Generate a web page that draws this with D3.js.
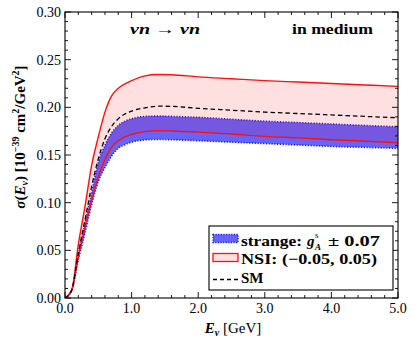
<!DOCTYPE html>
<html>
<head>
<meta charset="utf-8">
<script src="https://cdn.jsdelivr.net/npm/d3@7"></script>
<style>
  body { margin: 0; background: #fff; }
  svg text { font-family: "Liberation Serif", "DejaVu Serif", serif; }
</style>
</head>
<body>
<script>
// neutrino energies (GeV)
var energy = [0, 0.1, 0.2, 0.3, 0.4, 0.5, 0.6, 0.7, 0.8, 0.9, 1.0, 1.2, 1.4, 1.6, 2.0, 2.5, 3.0, 3.5, 4.0, 4.5, 5.0];
// cross sections, 10^-39 cm^2/GeV^2
var nsiUpper = [0, 0.008, 0.056, 0.096, 0.139, 0.169, 0.195, 0.212, 0.220, 0.2245, 0.228, 0.233, 0.2345, 0.2342, 0.232, 0.230, 0.228, 0.2265, 0.225, 0.2235, 0.222];
var nsiLower = [0, 0.008, 0.043, 0.074, 0.102, 0.127, 0.145, 0.158, 0.165, 0.169, 0.1715, 0.1745, 0.1755, 0.1752, 0.174, 0.172, 0.1695, 0.168, 0.166, 0.1645, 0.1628];
var strangeUpper = [0, 0.008, 0.045, 0.078, 0.110, 0.142, 0.160, 0.173, 0.181, 0.1855, 0.188, 0.1905, 0.1908, 0.1905, 0.1895, 0.1875, 0.1855, 0.184, 0.1825, 0.181, 0.1796];
var strangeLower = [0, 0.008, 0.040, 0.068, 0.098, 0.122, 0.137, 0.149, 0.157, 0.161, 0.1635, 0.1658, 0.1663, 0.166, 0.165, 0.1635, 0.162, 0.1605, 0.159, 0.158, 0.157];
var sm = [0, 0.008, 0.047, 0.082, 0.117, 0.146, 0.167, 0.180, 0.188, 0.193, 0.196, 0.1995, 0.2012, 0.201, 0.199, 0.197, 0.195, 0.1935, 0.192, 0.1905, 0.189];

var xTicks = [0, 1, 2, 3, 4, 5];
var yTicks = [0, 0.05, 0.10, 0.15, 0.20, 0.25, 0.30];

const w = 415;
const h = 346;
const pl = 65, pr = 398, pt = 12, pb = 298;

const xScale = d3.scaleLinear().domain([0, 5]).range([pl, pr]);
const yScale = d3.scaleLinear().domain([0, 0.30]).range([pb, pt]);

const svg = d3.select("body").append("svg").attr("width", w).attr("height", h);

svg.append("defs").append("clipPath").attr("id", "clip")
  .append("rect").attr("x", pl).attr("y", pt).attr("width", pr - pl).attr("height", pb - pt);

const plot = svg.append("g").attr("clip-path", "url(#clip)");

var rows = energy.map((e, i) => ({ e: e, nu: nsiUpper[i], nl: nsiLower[i], su: strangeUpper[i], sl: strangeLower[i], sm: sm[i] }));

const band = (lo, hi) => d3.area().curve(d3.curveMonotoneX)
  .x(d => xScale(d.e)).y0(d => yScale(d[lo])).y1(d => yScale(d[hi]));
const line = (k) => d3.line().curve(d3.curveMonotoneX).x(d => xScale(d.e)).y(d => yScale(d[k]));

// strange band
plot.append("path").datum(rows).attr("d", band("sl", "su")).attr("fill", "#6464ff");
plot.append("path").datum(rows).attr("d", line("su")).attr("fill", "none")
  .attr("stroke", "#1a1aff").attr("stroke-width", 1.6).attr("stroke-dasharray", "1.2,1.6");
plot.append("path").datum(rows).attr("d", line("sl")).attr("fill", "none")
  .attr("stroke", "#1a1aff").attr("stroke-width", 1.6).attr("stroke-dasharray", "1.2,1.6");

// NSI band
plot.append("path").datum(rows).attr("d", band("nl", "nu")).attr("fill", "rgba(255,0,0,0.12)");
plot.append("path").datum(rows).attr("d", line("nu")).attr("fill", "none").attr("stroke", "#ff1010").attr("stroke-width", 1.4);
plot.append("path").datum(rows).attr("d", line("nl")).attr("fill", "none").attr("stroke", "#ff1010").attr("stroke-width", 1.4);

// SM
plot.append("path").datum(rows).attr("d", line("sm")).attr("fill", "none")
  .attr("stroke", "#000").attr("stroke-width", 1.3).attr("stroke-dasharray", "4.5,3");

// inward ticks on all four sides
const xMinor = d3.range(0, 5.001, 0.2);
const yMinor = d3.range(0, 0.3001, 0.01);
const axes = svg.append("g").attr("stroke", "#000").attr("stroke-width", 0.9);

xMinor.forEach(v => {
  const len = Math.abs(v - Math.round(v)) < 1e-6 ? 6 : 3;
  axes.append("line").attr("x1", xScale(v)).attr("x2", xScale(v)).attr("y1", pb).attr("y2", pb - len);
  axes.append("line").attr("x1", xScale(v)).attr("x2", xScale(v)).attr("y1", pt).attr("y2", pt + len);
});
yMinor.forEach(v => {
  const len = Math.abs(v * 20 - Math.round(v * 20)) < 1e-6 ? 6 : 3;
  axes.append("line").attr("y1", yScale(v)).attr("y2", yScale(v)).attr("x1", pl).attr("x2", pl + len);
  axes.append("line").attr("y1", yScale(v)).attr("y2", yScale(v)).attr("x1", pr).attr("x2", pr - len);
});

svg.append("rect").attr("x", pl).attr("y", pt).attr("width", pr - pl).attr("height", pb - pt)
  .attr("fill", "none").attr("stroke", "#000").attr("stroke-width", 1.1);

svg.append("g").selectAll("text").data(xTicks).enter().append("text")
  .attr("x", d => xScale(d)).attr("y", pb + 15).attr("text-anchor", "middle")
  .attr("font-size", 14).text(d => d3.format(".1f")(d));

svg.append("g").selectAll("text").data(yTicks).enter().append("text")
  .attr("x", pl - 4).attr("y", d => yScale(d) + 5).attr("text-anchor", "end")
  .attr("font-size", 14).text(d => d3.format(".2f")(d));

// axis labels
const xl = svg.append("text").attr("x", 233).attr("y", 333).attr("text-anchor", "middle").attr("font-size", 15);
xl.append("tspan").attr("font-weight", "bold").attr("font-style", "italic").text("E");
xl.append("tspan").attr("font-size", 10).attr("font-weight", "bold").attr("font-style", "italic").attr("dy", 3).text("ν");
xl.append("tspan").attr("dy", -3).text(" [GeV]");

const yl = svg.append("text").attr("transform", "translate(25,137) rotate(-90)").attr("text-anchor", "middle")
  .attr("font-size", 15).attr("font-weight", "bold");
yl.append("tspan").attr("font-style", "italic").text("σ");
yl.append("tspan").text("(");
yl.append("tspan").attr("font-style", "italic").text("E");
yl.append("tspan").attr("font-size", 10).attr("font-style", "italic").attr("dy", 3).text("ν");
yl.append("tspan").attr("dy", -3).text(")  [10");
yl.append("tspan").attr("font-size", 10).attr("dy", -6).text("−39");
yl.append("tspan").attr("dy", 6).text(" cm");
yl.append("tspan").attr("font-size", 10).attr("dy", -6).text("2");
yl.append("tspan").attr("dy", 6).text("/GeV");
yl.append("tspan").attr("font-size", 10).attr("dy", -6).text("2");
yl.append("tspan").attr("dy", 6).text("]");

// annotations
svg.append("text").attr("x", 130).attr("y", 34).attr("font-size", 15)
  .attr("font-weight", "bold").attr("font-style", "italic")
  .attr("textLength", 70).attr("lengthAdjust", "spacingAndGlyphs").text("νn → νn");
svg.append("text").attr("x", 292).attr("y", 34).attr("font-size", 15)
  .attr("font-weight", "bold").attr("textLength", 81).attr("lengthAdjust", "spacingAndGlyphs").text("in medium");

// legend
const lg = svg.append("g");
lg.append("rect").attr("x", 209).attr("y", 226).attr("width", 184).attr("height", 64)
  .attr("fill", "#fff").attr("stroke", "#000").attr("stroke-width", 1.1);
lg.append("rect").attr("x", 213).attr("y", 234.5).attr("width", 25).attr("height", 8)
  .attr("fill", "#6464ff").attr("stroke", "#1a1aff").attr("stroke-width", 1.4).attr("stroke-dasharray", "1.2,1.4");
lg.append("rect").attr("x", 213).attr("y", 253.5).attr("width", 25).attr("height", 8)
  .attr("fill", "#ffe0e0").attr("stroke", "#ff1010").attr("stroke-width", 1.3);
lg.append("line").attr("x1", 213).attr("x2", 238).attr("y1", 279.5).attr("y2", 279.5)
  .attr("stroke", "#000").attr("stroke-width", 1.3).attr("stroke-dasharray", "4,3");

lg.append("text").attr("x", 241).attr("y", 245.5).attr("font-size", 15).attr("font-weight", "bold")
  .attr("textLength", 61).attr("lengthAdjust", "spacingAndGlyphs").text("strange:");
lg.append("text").attr("x", 307).attr("y", 245.5).attr("font-size", 15).attr("font-weight", "bold")
  .attr("font-style", "italic").text("g");
lg.append("text").attr("x", 315).attr("y", 238).attr("font-size", 9).text("s");
lg.append("text").attr("x", 315).attr("y", 249.5).attr("font-size", 9).attr("font-weight", "bold")
  .attr("font-style", "italic").text("A");
lg.append("text").attr("x", 328).attr("y", 245.5).attr("font-size", 15).attr("font-weight", "bold")
  .attr("textLength", 52).attr("lengthAdjust", "spacingAndGlyphs").text("± 0.07");
lg.append("text").attr("x", 241).attr("y", 264).attr("font-size", 15).attr("font-weight", "bold")
  .attr("textLength", 136).attr("lengthAdjust", "spacingAndGlyphs").text("NSI: (−0.05, 0.05)");
lg.append("text").attr("x", 241).attr("y", 282.5).attr("font-size", 15).attr("font-weight", "bold").text("SM");
</script>
</body>
</html>
